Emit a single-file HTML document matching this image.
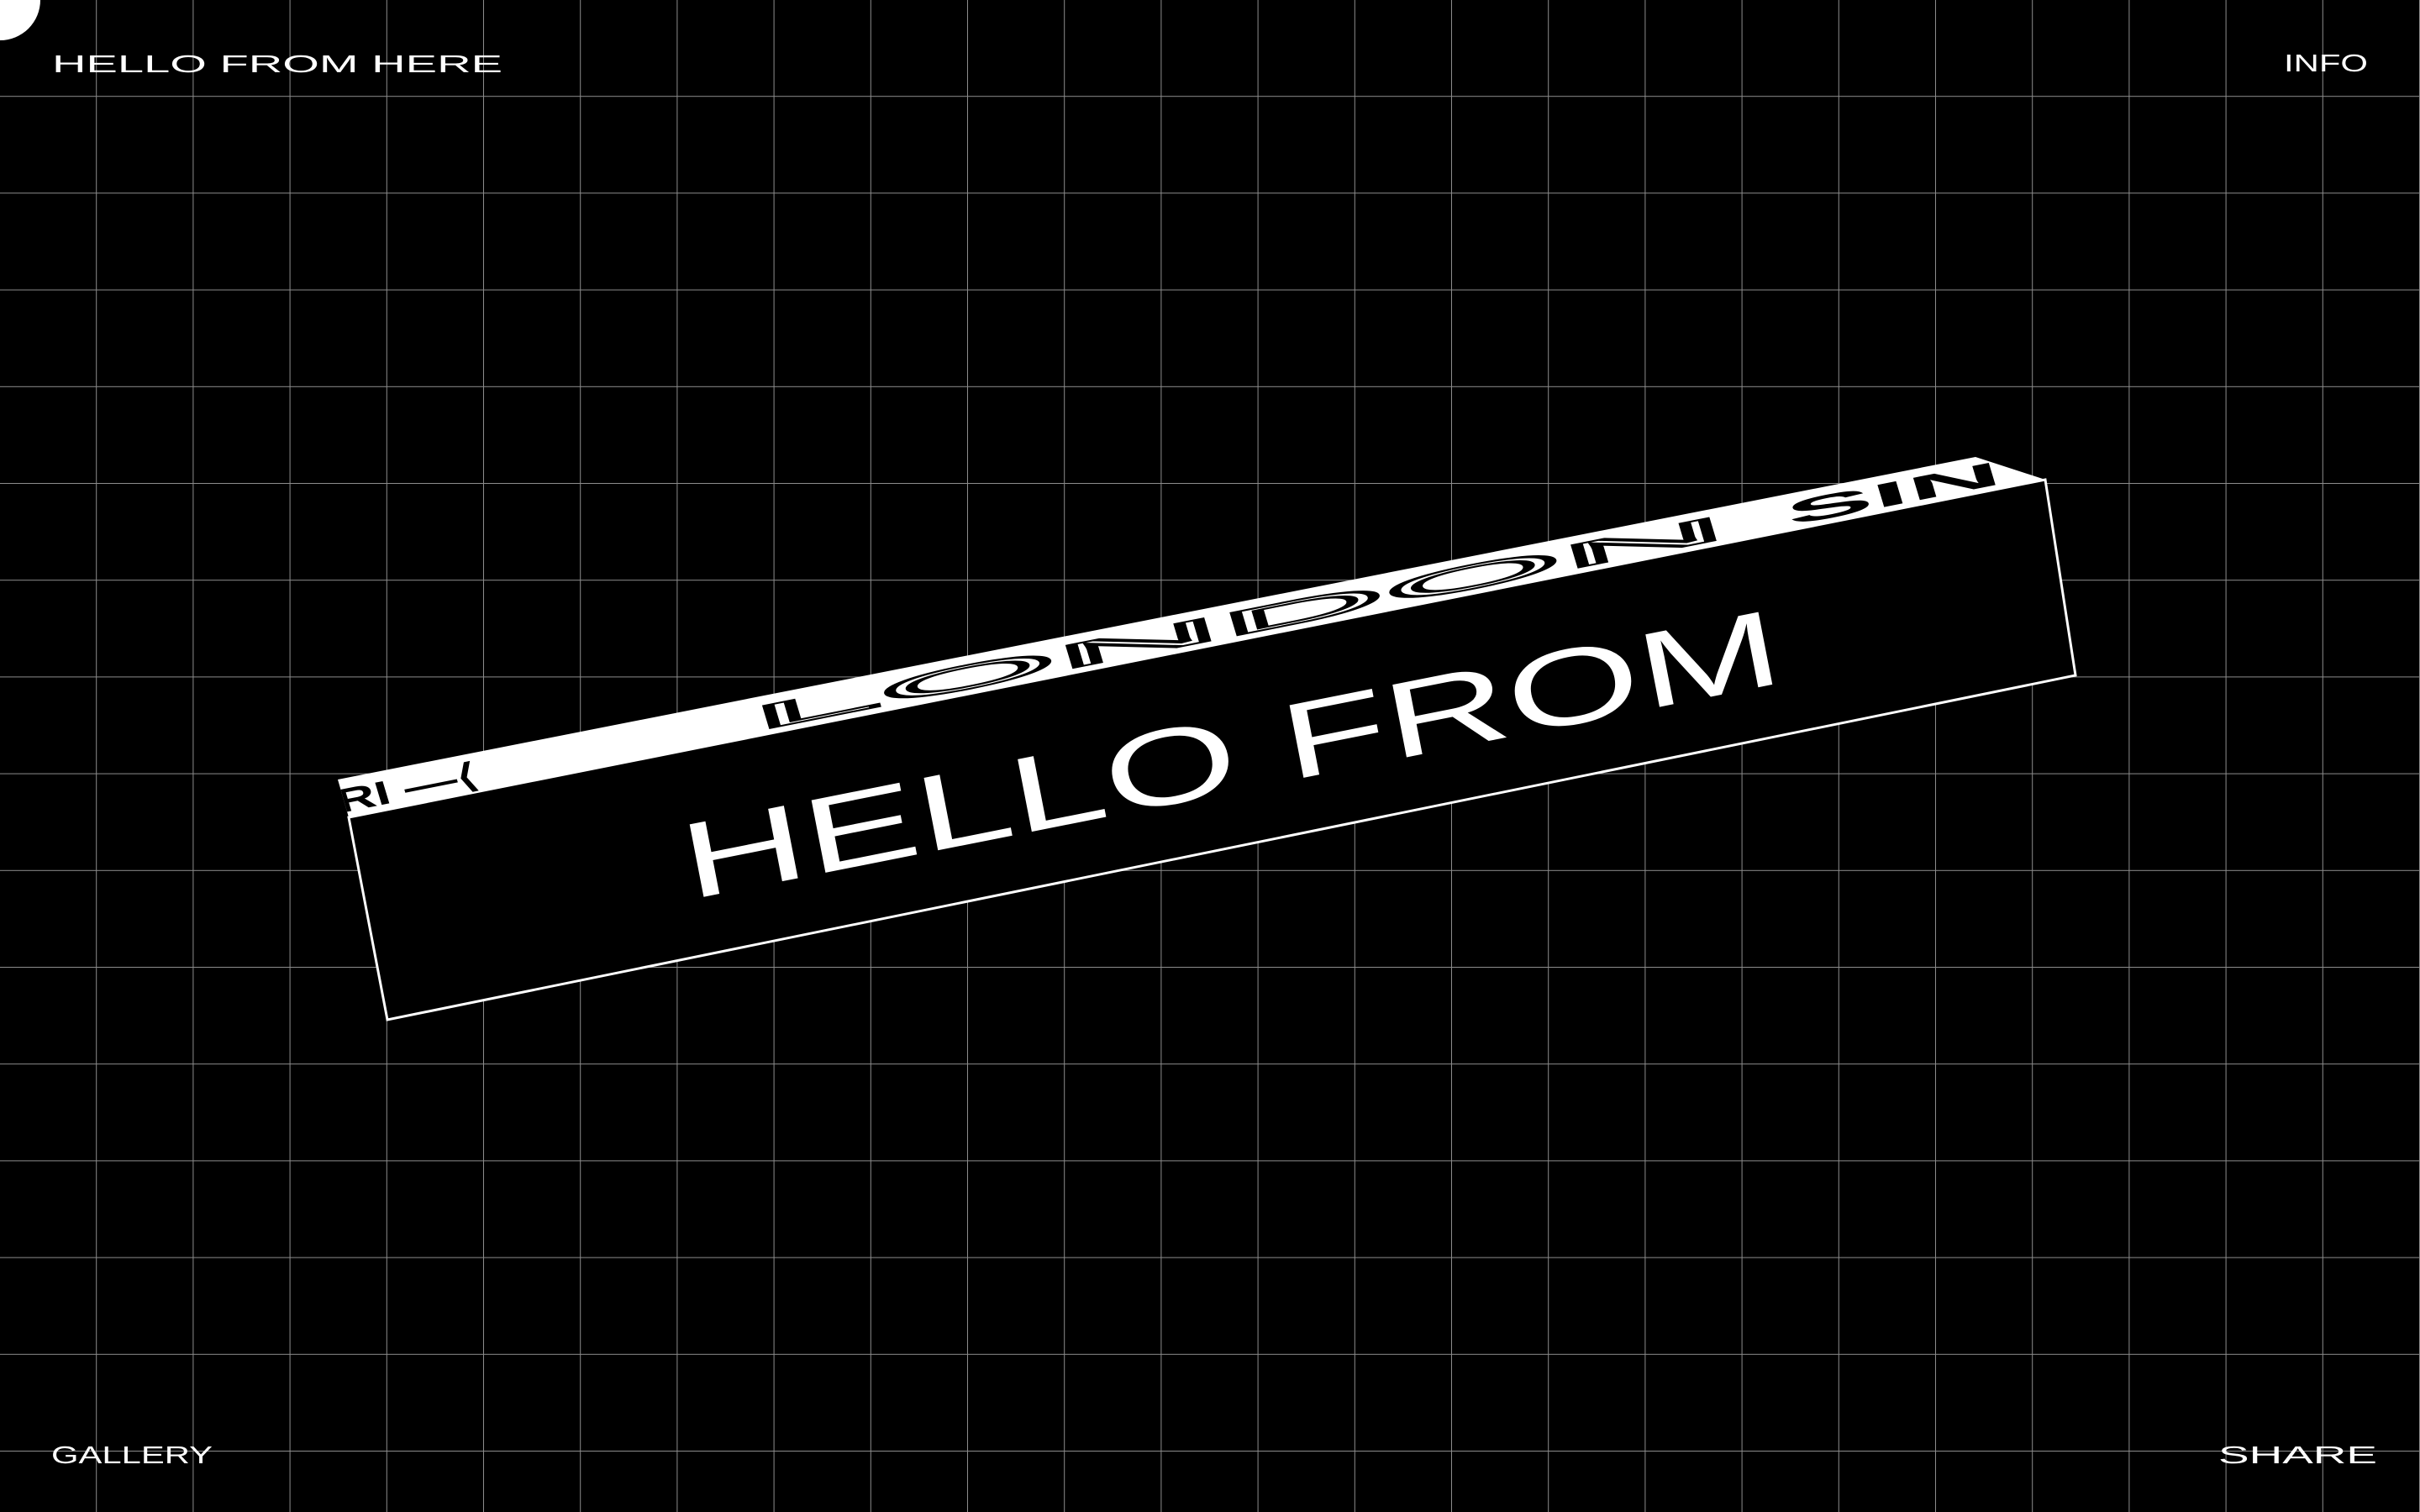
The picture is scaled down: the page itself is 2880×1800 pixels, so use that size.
<!DOCTYPE html>
<html><head><meta charset="utf-8"><style>
html,body{margin:0;padding:0;background:#000;}
body{width:2880px;height:1800px;overflow:hidden;position:relative;}
svg{position:absolute;left:0;top:0;}
</style></head><body>
<svg width="2880" height="1800" viewBox="0 0 2880 1800" xmlns="http://www.w3.org/2000/svg">
<defs>
<pattern id="g" width="115.2" height="115.2" patternUnits="userSpaceOnUse">
<path d="M115.2 0V115.2M0 115.2H115.2" stroke="#8c8c8c" stroke-width="2" fill="none"/>
</pattern>
<clipPath id="tc"><polygon points="402,928 2351,544 2434,571 415,973"/></clipPath>
</defs>
<rect x="0" y="0" width="2880" height="1800" fill="url(#g)"/>
<circle cx="0" cy="0" r="48" fill="#fff"/>
<g font-family="Liberation Sans, sans-serif" fill="#fff" font-size="29">
<text x="62" y="86" textLength="536" lengthAdjust="spacingAndGlyphs">HELLO FROM HERE</text>
<text x="2718" y="85" textLength="100" lengthAdjust="spacingAndGlyphs">INFO</text>
<text x="61" y="1742" textLength="192" lengthAdjust="spacingAndGlyphs">GALLERY</text>
<text x="2640" y="1742" textLength="189" lengthAdjust="spacingAndGlyphs">SHARE</text>
</g>
<polygon points="415,973 2434,571 2470,804 461,1214" fill="#000" stroke="#fff" stroke-width="3"/>
<polygon points="402,928 2351,544 2434,571 415,973" fill="#fff"/>
<g clip-path="url(#tc)" font-family="Liberation Sans, sans-serif">
<text transform="matrix(0.981,-0.195,0.24,0.8,405,968)" font-size="48" fill="#000" font-weight="bold" textLength="170" lengthAdjust="spacingAndGlyphs">RI —⟨</text>
<text transform="matrix(0.981,-0.195,0.24,0.8,900,870)" font-size="48" fill="#fff" stroke="#000" stroke-width="2.5" textLength="1180" lengthAdjust="spacingAndGlyphs">LONDON</text>
<text transform="matrix(0.981,-0.195,0.24,0.8,2130,626)" font-size="48" fill="#000" font-weight="bold" textLength="260" lengthAdjust="spacingAndGlyphs">SIN</text>
</g>
<text transform="matrix(0.981,-0.195,0.19,0.98,821,1071)" font-family="Liberation Sans, sans-serif" font-size="128" fill="#fff" textLength="1330" lengthAdjust="spacingAndGlyphs">HELLO FROM</text>
</svg>
</body></html>
